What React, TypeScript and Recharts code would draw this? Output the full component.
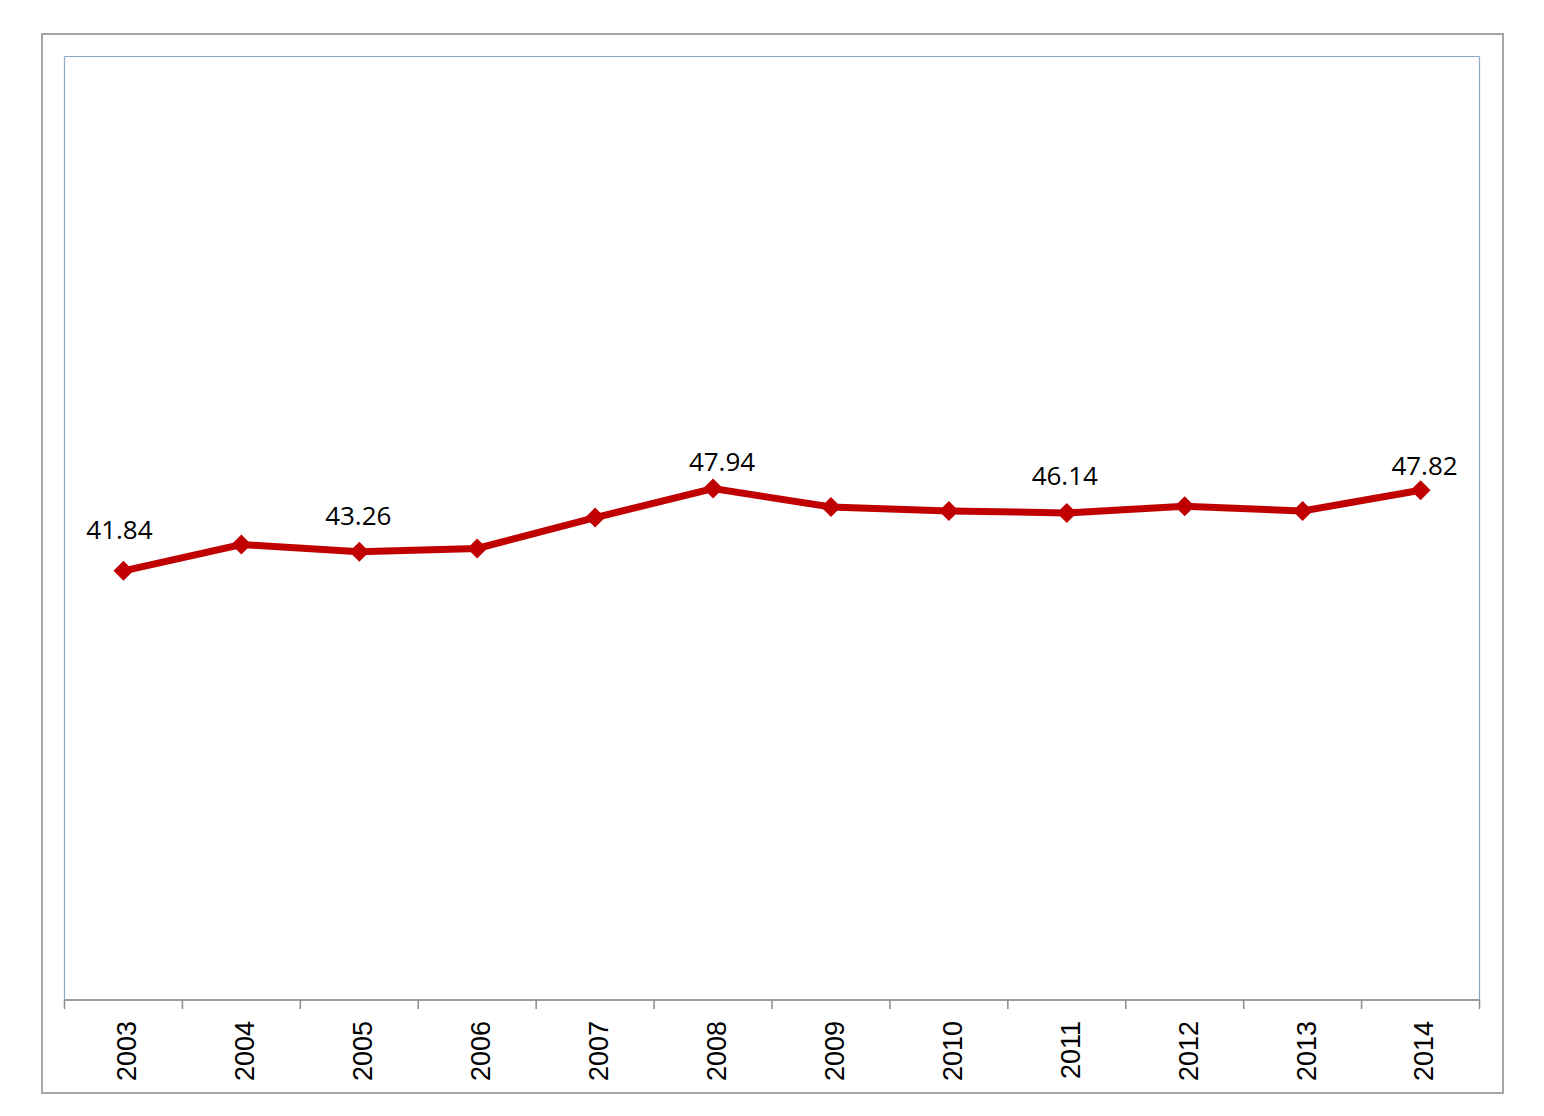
import { LineChart, Line, XAxis, YAxis, LabelList, CartesianGrid } from "recharts";

const years = ["2003", "2004", "2005", "2006", "2007", "2008", "2009", "2010", "2011", "2012", "2013", "2014"];
const values = [41.84, 43.79, 43.26, 43.5, 45.79, 47.94, 46.58, 46.28, 46.14, 46.63, 46.28, 47.82];
const labelledYears = ["2003", "2005", "2008", "2011", "2014"];
const yDomain = [10, 80];

const data = years.map((year, i) => ({ year, value: values[i] }));

const CHART_W = 1459;
const CHART_H = 1057;
const MARGIN = { top: 21.5, right: 22.5, bottom: 12, left: 21.5 };
const PLOT_W = CHART_W - MARGIN.left - MARGIN.right;
const BAND = PLOT_W / years.length;

const RED = "#C00000";
const AXIS_GRAY = "#8c8c8c";
const PLOT_BLUE = "#8DA7C6";

// hand-tuned label nudges (Excel labels were dragged a bit)
const labelNudge: Record<string, [number, number]> = {
  "2003": [-4, -32],
  "2005": [-1, -27],
  "2008": [9, -18],
  "2011": [-2, -28],
  "2014": [4, -15],
};

function Diamond(props: any) {
  const { cx, cy, index } = props;
  if (cx == null || cy == null) return null;
  const r = 10;
  return (
    <path
      key={`d-${index}`}
      d={`M${cx},${cy - r}L${cx + r},${cy}L${cx},${cy + r}L${cx - r},${cy}Z`}
      fill={RED}
    />
  );
}

function YearTick(props: any) {
  const { x, y, payload, index } = props;
  const ty = y + 21;
  const isLast = index === years.length - 1;
  return (
    <g>
      <line x1={x - BAND / 2} y1={y} x2={x - BAND / 2} y2={y + 9} stroke={AXIS_GRAY} strokeWidth={1.5} />
      {isLast && (
        <line x1={x + BAND / 2} y1={y} x2={x + BAND / 2} y2={y + 9} stroke={AXIS_GRAY} strokeWidth={1.5} />
      )}
      <text
        x={x}
        y={ty}
        dy="0.48em"
        transform={`rotate(-90, ${x}, ${ty})`}
        textAnchor="end"
        fontFamily="'Liberation Sans', Arial, sans-serif"
        fontSize={27}
        fill="#000"
      >
        {payload.value}
      </text>
    </g>
  );
}

function ValueLabel(props: any) {
  const { x, y, value, index } = props;
  const year = years[index];
  if (!labelledYears.includes(year)) return null;
  const [dx, dy] = labelNudge[year] || [0, -24];
  return (
    <text
      x={x + dx}
      y={y + dy}
      textAnchor="middle"
      fontFamily="'Open Sans', sans-serif"
      fontSize={26}
      fill="#000"
    >
      {value.toFixed(2)}
    </text>
  );
}

export default function App() {
  return (
    <div
      style={{
        position: "absolute",
        left: 41,
        top: 33,
        width: CHART_W + 4,
        height: CHART_H + 4,
        border: "2px solid #a6a6a6",
        boxSizing: "border-box",
        background: "#fff",
      }}
    >
      <LineChart width={CHART_W} height={CHART_H} data={data} margin={MARGIN}>
        {/* plot-area frame: grid lines only at the four edges */}
        <CartesianGrid
          stroke={PLOT_BLUE}
          strokeWidth={1.2}
          horizontalCoordinatesGenerator={({ offset }: any) => [offset.top, offset.top + offset.height]}
          verticalCoordinatesGenerator={({ offset }: any) => [offset.left, offset.left + offset.width]}
        />
        <YAxis domain={yDomain} hide />
        <XAxis
          dataKey="year"
          height={80}
          interval={0}
          tickSize={0}
          tickMargin={0}
          tickLine={false}
          axisLine={{ stroke: AXIS_GRAY, strokeWidth: 1.5 }}
          padding={{ left: BAND / 2, right: BAND / 2 }}
          tick={<YearTick />}
        />
        <Line
          dataKey="value"
          stroke={RED}
          strokeWidth={7}
          dot={<Diamond />}
          activeDot={false}
          isAnimationActive={false}
        >
          <LabelList dataKey="value" content={<ValueLabel />} />
        </Line>
      </LineChart>
    </div>
  );
}
